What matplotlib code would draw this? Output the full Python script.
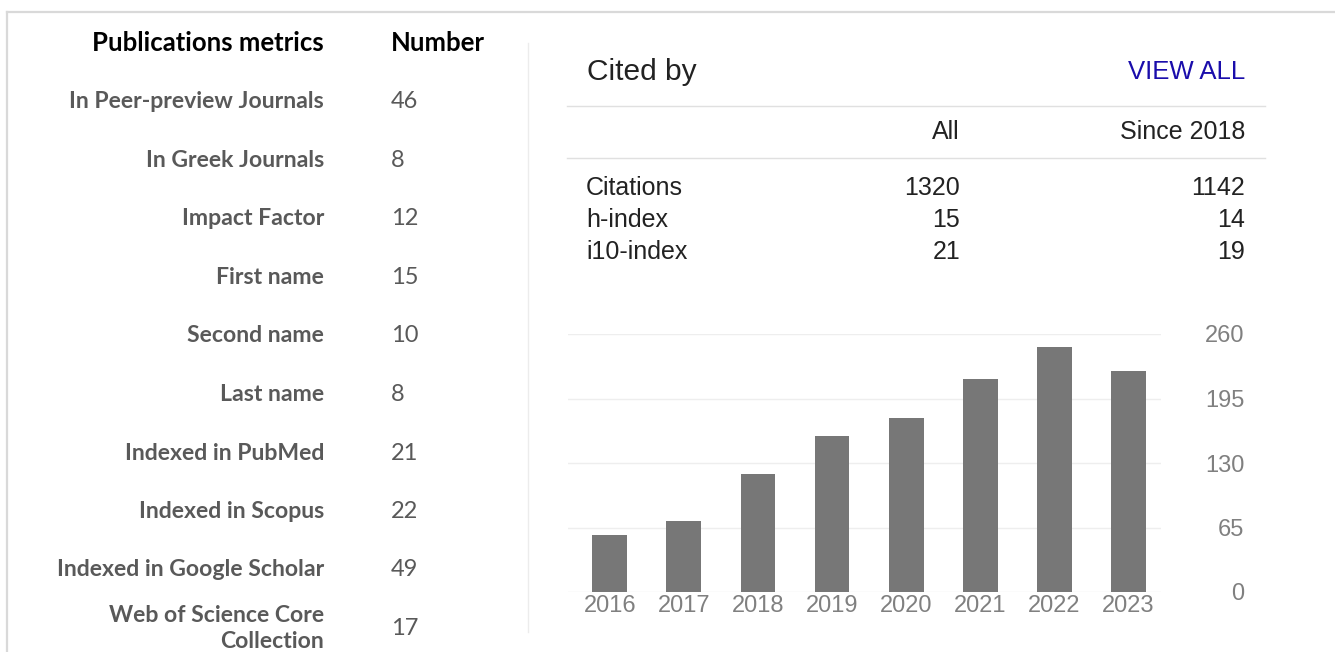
import matplotlib
matplotlib.use("Agg")
import matplotlib.pyplot as plt
from matplotlib.lines import Line2D

# ---------------- data ----------------
metric_labels = ["In Peer-preview Journals", "In Greek Journals", "Impact Factor",
                 "First name", "Second name", "Last name", "Indexed in PubMed",
                 "Indexed in Scopus", "Indexed in Google Scholar",
                 "Web of Science Core\nCollection"]
metric_values = [46, 8, 12, 15, 10, 8, 21, 22, 49, 17]

cite_rows = ["Citations", "h-index", "i10-index"]
cite_all = [1320, 15, 21]
cite_since = [1142, 14, 19]

years = ["2016", "2017", "2018", "2019", "2020", "2021", "2022", "2023"]
cites_per_year = [57, 72, 119, 157, 175, 215, 247, 223]
y_ticks = [0, 65, 130, 195, 260]

# ---------------- figure ----------------
W, H = 1335, 652
fig = plt.figure(figsize=(W / 100, H / 100), dpi=100)
fig.patch.set_facecolor("white")

def fx(px):
    return px / W

def fy(py):
    return 1 - py / H

# frame lines
fig.add_artist(Line2D([fx(7), fx(W)], [fy(12), fy(12)], color="#d9d9d9", lw=1.6))
fig.add_artist(Line2D([fx(7), fx(7)], [fy(12), fy(H)], color="#d9d9d9", lw=1.6))
fig.add_artist(Line2D([fx(528), fx(528)], [fy(43), fy(632)], color="#ececec", lw=1.0))

# ---------------- left table ----------------
lfont = "Lato"
fig.text(fx(324), fy(43), "Publications metrics", ha="right", va="center",
         fontsize=18.5, fontweight="bold", family=lfont, color="black")
fig.text(fx(391), fy(43), "Number", ha="left", va="center",
         fontsize=18.5, fontweight="bold", family=lfont, color="black")
row0, step = 102, 58.5
for i, (lab, val) in enumerate(zip(metric_labels, metric_values)):
    yc = row0 + i * step
    fig.text(fx(324), fy(yc), lab, ha="right", va="center", fontsize=16.6,
             fontweight="bold", family=lfont, color="#595959", linespacing=1.25)
    fig.text(fx(391), fy(yc), str(val), ha="left", va="center", fontsize=17,
             family=lfont, color="#595959")

# ---------------- right: cited by table ----------------
rfont = "Liberation Sans"
fig.text(fx(587), fy(72), "Cited by", ha="left", va="center", fontsize=21.5,
         family=rfont, color="#222222")
fig.text(fx(1245), fy(72), "VIEW ALL", ha="right", va="center", fontsize=18.5,
         family=rfont, color="#1a0dab")
for yl in (106, 158):
    fig.add_artist(Line2D([fx(567), fx(1265)], [fy(yl), fy(yl)], color="#e0e0e0", lw=1.0))
fig.text(fx(960), fy(132), "All", ha="right", va="center", fontsize=18,
         family=rfont, color="#222222")
fig.text(fx(1245), fy(132), "Since 2018", ha="right", va="center", fontsize=18,
         family=rfont, color="#222222")
for i, (r, a, s) in enumerate(zip(cite_rows, cite_all, cite_since)):
    yc = 188 + i * 32
    fig.text(fx(586), fy(yc), r, ha="left", va="center", fontsize=18,
             family=rfont, color="#222222")
    fig.text(fx(960), fy(yc), str(a), ha="right", va="center", fontsize=18,
             family=rfont, color="#222222")
    fig.text(fx(1245), fy(yc), str(s), ha="right", va="center", fontsize=18,
             family=rfont, color="#222222")

# ---------------- bar chart ----------------
ax_left, ax_right, ax_top, ax_bot = 567.5, 1161, 334, 592
ax = fig.add_axes([fx(ax_left), fy(ax_bot), (ax_right - ax_left) / W, (ax_bot - ax_top) / H])
xpos = list(range(len(years)))
ax.bar(xpos, cites_per_year, width=0.47, color="#777777", zorder=2)
ax.set_xlim(-0.571, 7.44)
ax.set_ylim(0, 260)
ax.set_yticks(y_ticks)
ax.set_yticklabels([str(t) for t in y_ticks])
ax.yaxis.tick_right()
ax.grid(axis="y", color="#eeeeee", lw=1.0, zorder=0)
for s in ax.spines.values():
    s.set_visible(False)
ax.tick_params(axis="y", length=0, pad=60, labelsize=17, labelcolor="#808080")
for lab in ax.get_yticklabels():
    lab.set_ha("right")
    lab.set_family(rfont)
ax.set_xticks(xpos)
ax.set_xticklabels(years)
ax.tick_params(axis="x", length=0, pad=2, labelsize=17, labelcolor="#808080")
for lab in ax.get_xticklabels():
    lab.set_family(rfont)
ax.set_facecolor("none")

fig.savefig("out.png", dpi=100, facecolor="white")
